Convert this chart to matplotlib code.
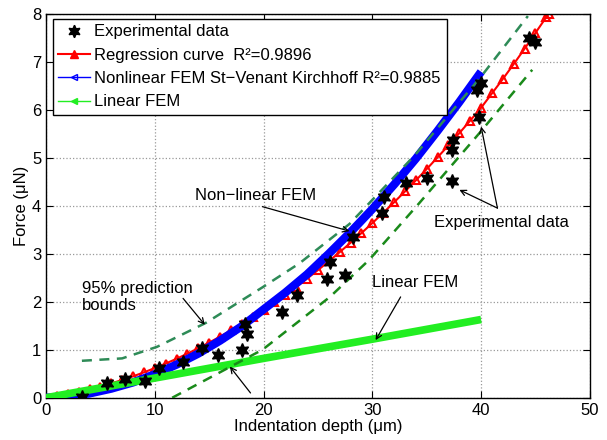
import matplotlib
matplotlib.use("Agg")
import matplotlib.pyplot as plt
from matplotlib.lines import Line2D

plt.rcParams['font.family'] = ['Liberation Sans', 'DejaVu Sans']

# Experimental data (indentation depth um, force uN)
exp_x = [3.3, 5.6, 7.25, 9.1, 10.4, 12.6, 14.3, 15.8, 18.0, 18.5, 18.3, 21.7,
         23.1, 25.8, 26.1, 27.5, 28.2, 30.9, 31.1, 33.1, 35.0, 37.3, 37.3,
         37.4, 39.8, 39.6, 40.0, 44.4, 45.0]
exp_y = [0.02, 0.30, 0.40, 0.34, 0.62, 0.74, 1.04, 0.89, 0.99, 1.33, 1.53, 1.79,
         2.14, 2.48, 2.83, 2.55, 3.35, 3.85, 4.18, 4.47, 4.58, 4.51, 5.16,
         5.37, 5.85, 6.41, 6.56, 7.49, 7.41]

# Regression curve
reg_x = list(range(0, 47)) + [46.2]
reg_y = [0.0, 0.035, 0.076, 0.123, 0.176, 0.234, 0.299, 0.370, 0.446, 0.529,
         0.618, 0.712, 0.812, 0.919, 1.031, 1.149, 1.274, 1.404, 1.540, 1.682,
         1.830, 1.984, 2.144, 2.310, 2.482, 2.659, 2.843, 3.033, 3.228, 3.430,
         3.638, 3.851, 4.071, 4.296, 4.527, 4.764, 5.008, 5.257, 5.512, 5.773,
         6.040, 6.34, 6.64, 6.95, 7.27, 7.60, 7.93, 8.0]

# Nonlinear FEM (St-Venant Kirchhoff)
nl_x = [0, 2, 4, 6, 8, 10, 12, 14, 16, 18, 20, 22, 24, 26, 28, 30, 32, 34, 36, 38, 40]
nl_y = [0.0, 0.025, 0.09, 0.19, 0.32, 0.49, 0.69, 0.92, 1.19, 1.49, 1.84, 2.19,
        2.57, 3.0, 3.45, 3.93, 4.44, 4.98, 5.56, 6.16, 6.79]

# Linear FEM
lin_x = [0, 10, 20, 30, 40]
lin_y = [0.0, 0.41, 0.82, 1.22, 1.63]

# 95% prediction bounds
up_x = [3.3, 7.0, 10.2, 14.7, 19.9, 23.3, 27.9, 33.9, 40.0, 44.3]
up_y = [0.77, 0.82, 1.06, 1.56, 2.30, 2.80, 3.62, 5.05, 6.69, 7.95]
lo_x = [11.6, 16.9, 19.9, 26.1, 29.7, 34.3, 39.8, 44.7]
lo_y = [0.0, 0.64, 1.0, 2.1, 2.87, 4.05, 5.5, 6.83]

star = (6, 1, 0)

fig = plt.figure(figsize=(6.07, 4.40), dpi=100)
ax = fig.add_axes([0.0758, 0.096, 0.896, 0.873])

ax.plot(reg_x, reg_y, '-', color='red', lw=1.5, marker='^', ms=5.5,
        mfc='none', mec='red', mew=1.5, zorder=2)
ax.plot(nl_x, nl_y, '-', color='blue', lw=6, solid_capstyle='butt', zorder=3)
ax.plot(lin_x, lin_y, '-', color='#22ee22', lw=5.5, solid_capstyle='butt', zorder=4)
ax.plot(up_x, up_y, '--', color='#2e8b57', lw=1.8, dashes=(4, 3), zorder=4.5)
ax.plot(lo_x, lo_y, '--', color='#1a8a1a', lw=1.8, dashes=(4, 3), zorder=4.5)
ax.plot(exp_x, exp_y, linestyle='none', marker=star, ms=10, color='black', zorder=5)

ax.set_xlim(0, 50)
ax.set_ylim(0, 8)
ax.set_xticks([0, 10, 20, 30, 40, 50])
ax.set_yticks(range(0, 9))
ax.tick_params(direction='in', top=True, right=True, labelsize=12, length=5)
ax.grid(True, linestyle=':', color='#999999', lw=0.9)
for s in ax.spines.values():
    s.set_linewidth(1.0)
ax.set_xlabel('Indentation depth (\u03bcm)', fontsize=12, labelpad=1)
ax.set_ylabel('Force (\u03bcN)', fontsize=12, labelpad=2)

# annotations
arr = dict(arrowstyle='->', color='black', lw=0.9, shrinkA=0, shrinkB=0)
ax.annotate('', xy=(27.9, 3.47), xytext=(19.9, 3.98), arrowprops=arr, zorder=6)
ax.text(13.7, 4.22, 'Non\u2212linear FEM', fontsize=12, va='center', ha='left')
ax.annotate('', xy=(14.6, 1.52), xytext=(12.6, 2.07), arrowprops=arr, zorder=6)
ax.text(3.3, 2.1, '95% prediction\nbounds', fontsize=12, va='center', ha='left',
        linespacing=1.12)
ax.annotate('', xy=(16.9, 0.65), xytext=(18.8, 0.1), arrowprops=arr, zorder=6)
ax.annotate('', xy=(30.3, 1.2), xytext=(32.6, 2.1), arrowprops=arr, zorder=6)
ax.text(30.0, 2.4, 'Linear FEM', fontsize=12, va='center', ha='left')
ax.annotate('', xy=(38.0, 4.33), xytext=(41.5, 3.95), arrowprops=arr, zorder=6)
ax.annotate('', xy=(40.0, 5.65), xytext=(41.5, 3.95), arrowprops=arr, zorder=6)
ax.text(35.7, 3.66, 'Experimental data', fontsize=12, va='center', ha='left')

handles = [
    Line2D([], [], linestyle='none', marker=star, ms=9, color='black'),
    Line2D([], [], color='red', lw=1.5, marker='^', ms=6, mfc='red', mec='red'),
    Line2D([], [], color='blue', lw=1.0, marker='<', ms=4, mfc='none', mec='blue'),
    Line2D([], [], color='#22ee22', lw=1.0, marker='<', ms=4, mfc='#22ee22', mec='#22ee22'),
]
labels = ['Experimental data', 'Regression curve  R\u00b2=0.9896',
          'Nonlinear FEM St\u2212Venant Kirchhoff R\u00b2=0.9885', 'Linear FEM']
leg = ax.legend(handles, labels, loc='upper left', bbox_to_anchor=(0.012, 0.987),
                borderaxespad=0, fontsize=12, fancybox=False, framealpha=1,
                edgecolor='black', handlelength=1.9, labelspacing=0.5,
                borderpad=0.35, handletextpad=0.25)
leg.get_frame().set_linewidth(1.0)
leg.set_zorder(10)

fig.savefig('out.png', dpi=100)
